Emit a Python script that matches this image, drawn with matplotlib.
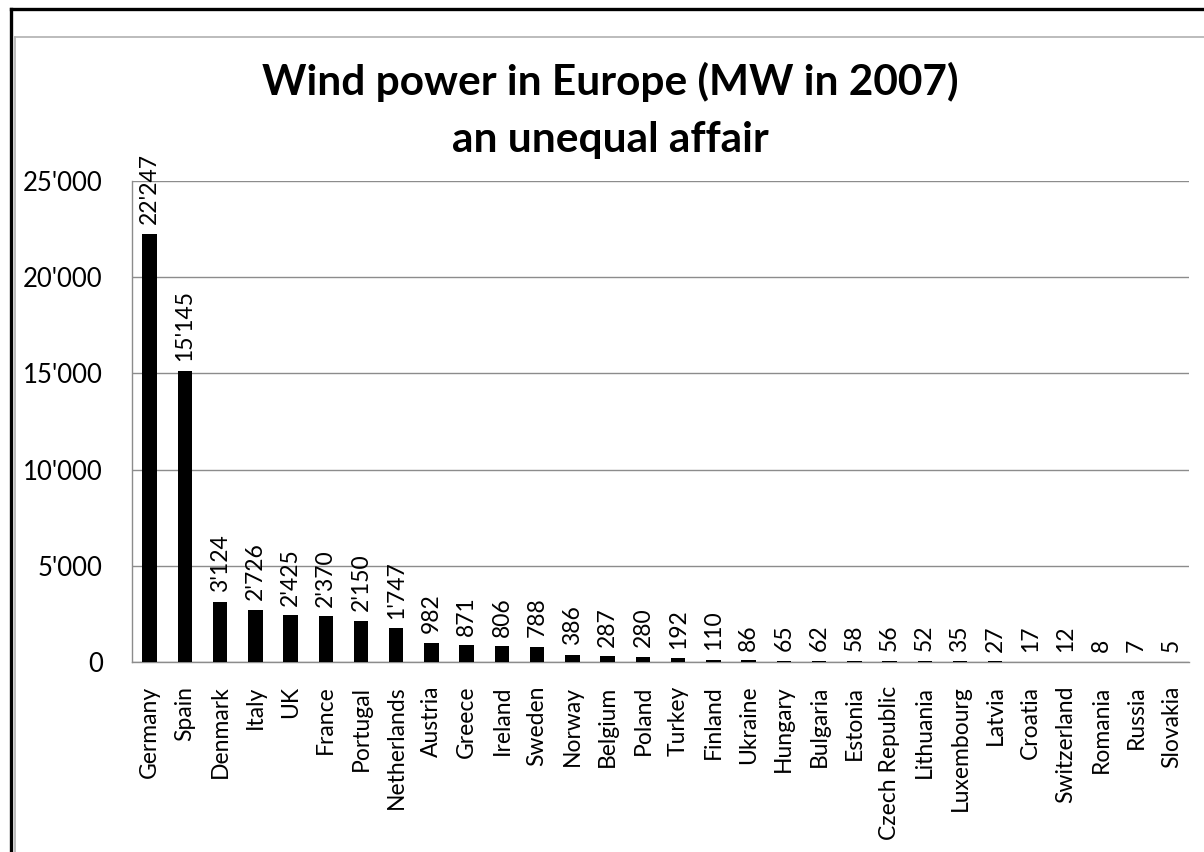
import numpy as np
import matplotlib
matplotlib.use('Agg')
import matplotlib.pyplot as plt
from matplotlib.lines import Line2D

# 数据
countries = ['Germany', 'Spain', 'Denmark', 'Italy', 'UK', 'France', 'Portugal', 'Netherlands',
             'Austria', 'Greece', 'Ireland', 'Sweden', 'Norway', 'Belgium', 'Poland', 'Turkey',
             'Finland', 'Ukraine', 'Hungary', 'Bulgaria', 'Estonia', 'Czech Republic', 'Lithuania',
             'Luxembourg', 'Latvia', 'Croatia', 'Switzerland', 'Romania', 'Russia', 'Slovakia']
mw_2007 = [22247, 15145, 3124, 2726, 2425, 2370, 2150, 1747,
           982, 871, 806, 788, 386, 287, 280, 192,
           110, 86, 65, 62, 58, 56, 52,
           35, 27, 17, 12, 8, 7, 5]
y_ticks = [0, 5000, 10000, 15000, 20000, 25000]


def fmt(v):
    # 千位分隔符用 '
    return '{:,}'.format(v).replace(',', "'")


plt.rc('font', family=['Lato', 'DejaVu Sans'])

fig = plt.figure(figsize=(12.04, 8.52), dpi=100)

# 外框
fig.add_artist(Line2D([11 / 1204, 11 / 1204], [0, 1 - 9 / 852], transform=fig.transFigure,
                      color='k', linewidth=2.4))
fig.add_artist(Line2D([11 / 1204, 1], [1 - 9 / 852, 1 - 9 / 852], transform=fig.transFigure,
                      color='k', linewidth=2.4))
fig.add_artist(Line2D([15 / 1204, 15 / 1204], [0, 1 - 37 / 852], transform=fig.transFigure,
                      color='#b0b0b0', linewidth=1.2))
fig.add_artist(Line2D([15 / 1204, 1], [1 - 37 / 852, 1 - 37 / 852], transform=fig.transFigure,
                      color='#b0b0b0', linewidth=1.2))

ax = fig.add_axes([132 / 1204, 190 / 852, 1057 / 1204, 481 / 852])

x = np.arange(len(countries))
bars = ax.bar(x, mw_2007, width=0.41, color='k', zorder=3)

# 数值标签
for xi, v in zip(x, mw_2007):
    ax.annotate(fmt(v), (xi, v), xytext=(0, 7), textcoords='offset points',
                rotation=90, ha='center', va='bottom', fontsize=16.5)

ax.set_xlim(-0.5, len(countries) - 0.5)
ax.set_ylim(0, 25000)
ax.set_yticks(y_ticks)
ax.set_yticklabels([fmt(t) for t in y_ticks], fontsize=18.5)
ax.set_xticks(x)
ax.set_xticklabels(countries, rotation=90, fontsize=16.5)
ax.tick_params(axis='y', length=0, pad=21)
ax.tick_params(axis='x', length=0, pad=17)

ax.grid(axis='y', color='#8c8c8c', linewidth=1.0, zorder=0)
for s in ['top', 'right']:
    ax.spines[s].set_visible(False)
ax.spines['left'].set_color('#8c8c8c')
ax.spines['bottom'].set_color('#8c8c8c')
ax.spines['left'].set_linewidth(1.0)
ax.spines['bottom'].set_linewidth(1.0)

fig.text(610 / 1204, 1 - 82 / 852, 'Wind power in Europe (MW in 2007)', ha='center', va='center',
         fontsize=30.5, fontweight='bold')
fig.text(610 / 1204, 1 - 140 / 852, 'an unequal affair', ha='center', va='center',
         fontsize=30.5, fontweight='bold')

plt.savefig('out.png', dpi=100)
